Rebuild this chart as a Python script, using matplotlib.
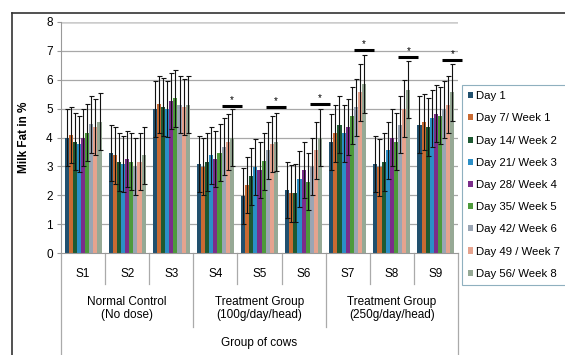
import matplotlib

matplotlib.use("Agg")
import matplotlib.pyplot as plt  # noqa: E402
import numpy as np  # noqa: E402
from matplotlib.lines import Line2D  # noqa: E402
from matplotlib.transforms import blended_transform_factory  # noqa: E402

plt.rcParams["font.family"] = ["Liberation Sans", "DejaVu Sans"]

COWS = ["S1", "S2", "S3", "S4", "S5", "S6", "S7", "S8", "S9"]
GROUPS = ["Normal Control\n(No dose)", "Treatment Group\n(100g/day/head)",
          "Treatment Group\n(250g/day/head)"]
DAYS = ["Day 1", "Day 7/ Week 1", "Day 14/ Week 2", "Day 21/ Week 3",
        "Day 28/ Week 4", "Day 35/ Week 5", "Day 42/ Week 6",
        "Day 49 / Week 7", "Day 56/ Week 8"]

# milk fat % per sampling day, one value per cow S1..S9
DAY1 = [4.00, 3.47, 4.99, 3.08, 1.98, 2.18, 3.85, 3.08, 4.45]
DAY7 = [4.08, 3.38, 5.15, 2.99, 2.35, 2.07, 4.14, 2.97, 4.54]
DAY14 = [3.86, 3.16, 5.06, 3.16, 2.65, 2.07, 4.45, 3.16, 4.36]
DAY21 = [3.77, 3.08, 4.99, 3.38, 2.98, 2.56, 4.14, 3.56, 4.66]
DAY28 = [4.00, 3.26, 5.27, 3.25, 2.87, 2.87, 4.36, 3.99, 4.83]
DAY35 = [4.16, 3.16, 5.36, 3.47, 3.17, 2.47, 4.75, 3.85, 4.75]
DAY42 = [4.46, 2.99, 5.14, 3.68, 3.55, 2.99, 5.04, 4.45, 4.98]
DAY49 = [4.37, 3.16, 5.05, 3.85, 3.77, 3.56, 5.56, 5.00, 5.14]
DAY56 = [4.55, 3.38, 5.14, 4.00, 3.85, 4.00, 5.85, 5.66, 5.56]
SERIES = [DAY1, DAY7, DAY14, DAY21, DAY28, DAY35, DAY42, DAY49, DAY56]

# error bar half-length per sampling day (same for every cow)
SD = [0.98, 0.98, 1.0, 0.98, 0.98, 0.99, 0.98, 0.98, 1.0]

# significance markers: cow index and height of the bar
SIG_COWS = [3, 4, 5, 6, 7, 8]
SIG_Y = [5.10, 5.04, 5.16, 7.02, 6.79, 6.68]

COLORS = ["#21506e", "#c96a32", "#1e5a32", "#2b8fc7", "#7b2d8a",
          "#4d9a3b", "#9aa5b4", "#e6a38e", "#96a995"]

fig = plt.figure(figsize=(5.65, 3.55), dpi=100, facecolor="white")
ax = fig.add_axes([61 / 565, 1 - 253 / 355, 397 / 565, 231 / 355])

n = len(SERIES)
w = 0.84 / n
x = np.arange(len(COWS)) + 0.5
handles = []
for i, vals in enumerate(SERIES):
    xs = x + (i - (n - 1) / 2) * w
    b = ax.bar(xs, vals, w, color=COLORS[i], linewidth=0, zorder=2, label=DAYS[i])
    ax.errorbar(xs, vals, yerr=SD[i], fmt="none", ecolor="#111111",
                elinewidth=0.8, capsize=1.8, capthick=0.8, zorder=3)
    handles.append(b)

# significance bars over the last bar of each treated cow
for c, y in zip(SIG_COWS, SIG_Y):
    xc = x[c] + (n - 1) / 2 * w
    ax.plot([xc - 0.225, xc + 0.225], [y, y], color="black", lw=2.2,
            solid_capstyle="butt", clip_on=False, zorder=4)
    ax.text(xc, y + 0.04, "*", ha="center", va="bottom", fontsize=7)

ax.set_xlim(0, len(COWS))
ax.set_ylim(0, 8)
ax.set_yticks(range(0, 9))
for yv in range(1, 8):
    ax.axhline(yv, color="#a8a8a8", lw=0.9, zorder=1)
ax.axhline(8, color="#cccccc", lw=1.8, zorder=1)
ax.set_xticks([])
ax.tick_params(axis="y", length=3, color="#999999", labelsize=8.5, pad=3)
for s in ["top", "right"]:
    ax.spines[s].set_visible(False)
ax.spines["left"].set_color("#999999")
ax.spines["bottom"].set_color("#999999")
ax.set_ylabel("Milk Fat in %", fontsize=8.5, fontweight="bold")
ax.yaxis.set_label_coords(-0.078, 0.5)

# category axis: cow labels, group labels, dividers
tr = blended_transform_factory(ax.transData, ax.transAxes)
for i, cow in enumerate(COWS):
    ax.text(x[i], -0.09, cow, transform=tr, ha="center", va="center", fontsize=8.5)
for g, lab in enumerate(GROUPS):
    ax.text(3 * g + 1.5, -0.24, lab, transform=tr, ha="center", va="center",
            fontsize=8.5, linespacing=1.15)
ax.text(4.5, -0.39, "Group of cows", transform=tr, ha="center", va="center",
        fontsize=8.5)
for b in range(len(COWS) + 1):
    if b in (0, len(COWS)):
        low = -0.5
    elif b % 3 == 0:
        low = -0.32
    else:
        low = -0.134
    ax.add_line(Line2D([b, b], [0, low], transform=tr, color="#aaaaaa",
                       lw=0.9, clip_on=False))

leg = fig.legend(handles=handles, loc="upper left",
                 bbox_to_anchor=(462 / 565, 1 - 85 / 355), borderaxespad=0,
                 fontsize=8.2, frameon=True, fancybox=False, framealpha=1,
                 edgecolor="#8fb0bf", handlelength=0.45, handleheight=0.45,
                 handletextpad=0.2, labelspacing=1.07, borderpad=0.55)
leg.get_frame().set_linewidth(0.8)

# outer chart border
fig.add_artist(Line2D([12 / 565, 12 / 565], [0, 1 - 13 / 355],
                      transform=fig.transFigure, color="#333333", lw=1.2))
fig.add_artist(Line2D([12 / 565, 1], [1 - 13 / 355, 1 - 13 / 355],
                      transform=fig.transFigure, color="#333333", lw=1.2))

fig.savefig("out.png", dpi=100, facecolor="white")
